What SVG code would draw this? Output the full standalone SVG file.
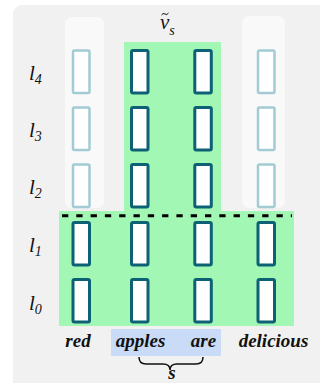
<svg xmlns="http://www.w3.org/2000/svg" width="320" height="383" viewBox="0 0 320 383">
<defs>
<rect id="bx" width="16.5" height="42.5" rx="1.5"/>
</defs>
<rect x="13" y="5" width="320" height="390" rx="9" fill="#f1f1f1"/>
<g id="columns">
<rect x="65" y="17" width="39" height="191" rx="7" fill="#f9f9f9"/>
<rect x="242" y="16" width="43" height="192" rx="7" fill="#f9f9f9"/>
<rect x="124" y="42" width="97" height="170" fill="#a3f7b5"/>
<rect x="59" y="211" width="235" height="115" fill="#a3f7b5"/>
</g>
<g id="connectors">
<line x1="62" y1="215.7" x2="292" y2="215.7" stroke="#000" stroke-width="3" stroke-dasharray="6.3 8"/>
<path d="M139,357 q0,7 7,7 L163,364 q7,0 7,6 q0,-6 7,-6 L196,364 q7,0 7,-7" fill="none" stroke="#111" stroke-width="1.5"/>
</g>
<g id="highlight">
<rect x="111" y="329" width="110" height="27" fill="#c9dbf6"/>
</g>
<g id="col-red" fill="#ffffff">
<g stroke="#a3cbd3" stroke-width="2.5">
<use href="#bx" x="73" y="50.5"/>
<use href="#bx" x="73" y="107.5"/>
<use href="#bx" x="73" y="164.5"/>
</g>
<g stroke="#0d6175" stroke-width="3">
<use href="#bx" x="73" y="222.5"/>
<use href="#bx" x="73" y="279.5"/>
</g>
</g>
<g id="col-apples" fill="#ffffff" stroke="#0d6175" stroke-width="3">
<use href="#bx" x="131.5" y="50.5"/>
<use href="#bx" x="131.5" y="107.5"/>
<use href="#bx" x="131.5" y="164.5"/>
<use href="#bx" x="131.5" y="222.5"/>
<use href="#bx" x="131.5" y="279.5"/>
</g>
<g id="col-are" fill="#ffffff" stroke="#0d6175" stroke-width="3">
<use href="#bx" x="194.8" y="50.5"/>
<use href="#bx" x="194.8" y="107.5"/>
<use href="#bx" x="194.8" y="164.5"/>
<use href="#bx" x="194.8" y="222.5"/>
<use href="#bx" x="194.8" y="279.5"/>
</g>
<g id="col-delicious" fill="#ffffff">
<g stroke="#a3cbd3" stroke-width="2.5">
<use href="#bx" x="258" y="50.5"/>
<use href="#bx" x="258" y="107.5"/>
<use href="#bx" x="258" y="164.5"/>
</g>
<g stroke="#0d6175" stroke-width="3">
<use href="#bx" x="258" y="222.5"/>
<use href="#bx" x="258" y="279.5"/>
</g>
</g>
<g id="layer-labels" fill="#111">
<text x="29" y="80" font-family="'Liberation Serif', serif" font-style="italic" font-size="21">l<tspan font-size="14" dy="4">4</tspan></text>
<text x="29" y="137" font-family="'Liberation Serif', serif" font-style="italic" font-size="21">l<tspan font-size="14" dy="4">3</tspan></text>
<text x="29" y="194" font-family="'Liberation Serif', serif" font-style="italic" font-size="21">l<tspan font-size="14" dy="4">2</tspan></text>
<text x="29" y="252" font-family="'Liberation Serif', serif" font-style="italic" font-size="21">l<tspan font-size="14" dy="4">1</tspan></text>
<text x="29" y="310" font-family="'Liberation Serif', serif" font-style="italic" font-size="21">l<tspan font-size="14" dy="4">0</tspan></text>
</g>
<g id="vs-label" fill="#111">
<text x="160" y="29" font-family="'Liberation Serif', serif" font-style="italic" font-size="21">v<tspan font-size="14" dy="6">s</tspan></text>
<path d="M161.5,15 q1.5,-2.5 3.5,-1 q2,1.5 3.5,-1" fill="none" stroke="#111" stroke-width="1"/>
</g>
<g id="words" fill="#111">
<text x="78" y="347" font-family="'Liberation Serif', serif" font-style="italic" font-weight="bold" font-size="19" text-anchor="middle">red</text>
<text x="140.5" y="347" font-family="'Liberation Serif', serif" font-style="italic" font-weight="bold" font-size="19" text-anchor="middle">apples</text>
<text x="203.5" y="347" font-family="'Liberation Serif', serif" font-style="italic" font-weight="bold" font-size="19" text-anchor="middle">are</text>
<text x="273.5" y="347" font-family="'Liberation Serif', serif" font-style="italic" font-weight="bold" font-size="19" text-anchor="middle">delicious</text>
<text x="172" y="379" font-family="'Liberation Serif', serif" font-style="italic" font-weight="bold" font-size="19" text-anchor="middle">s</text>
</g>
</svg>
